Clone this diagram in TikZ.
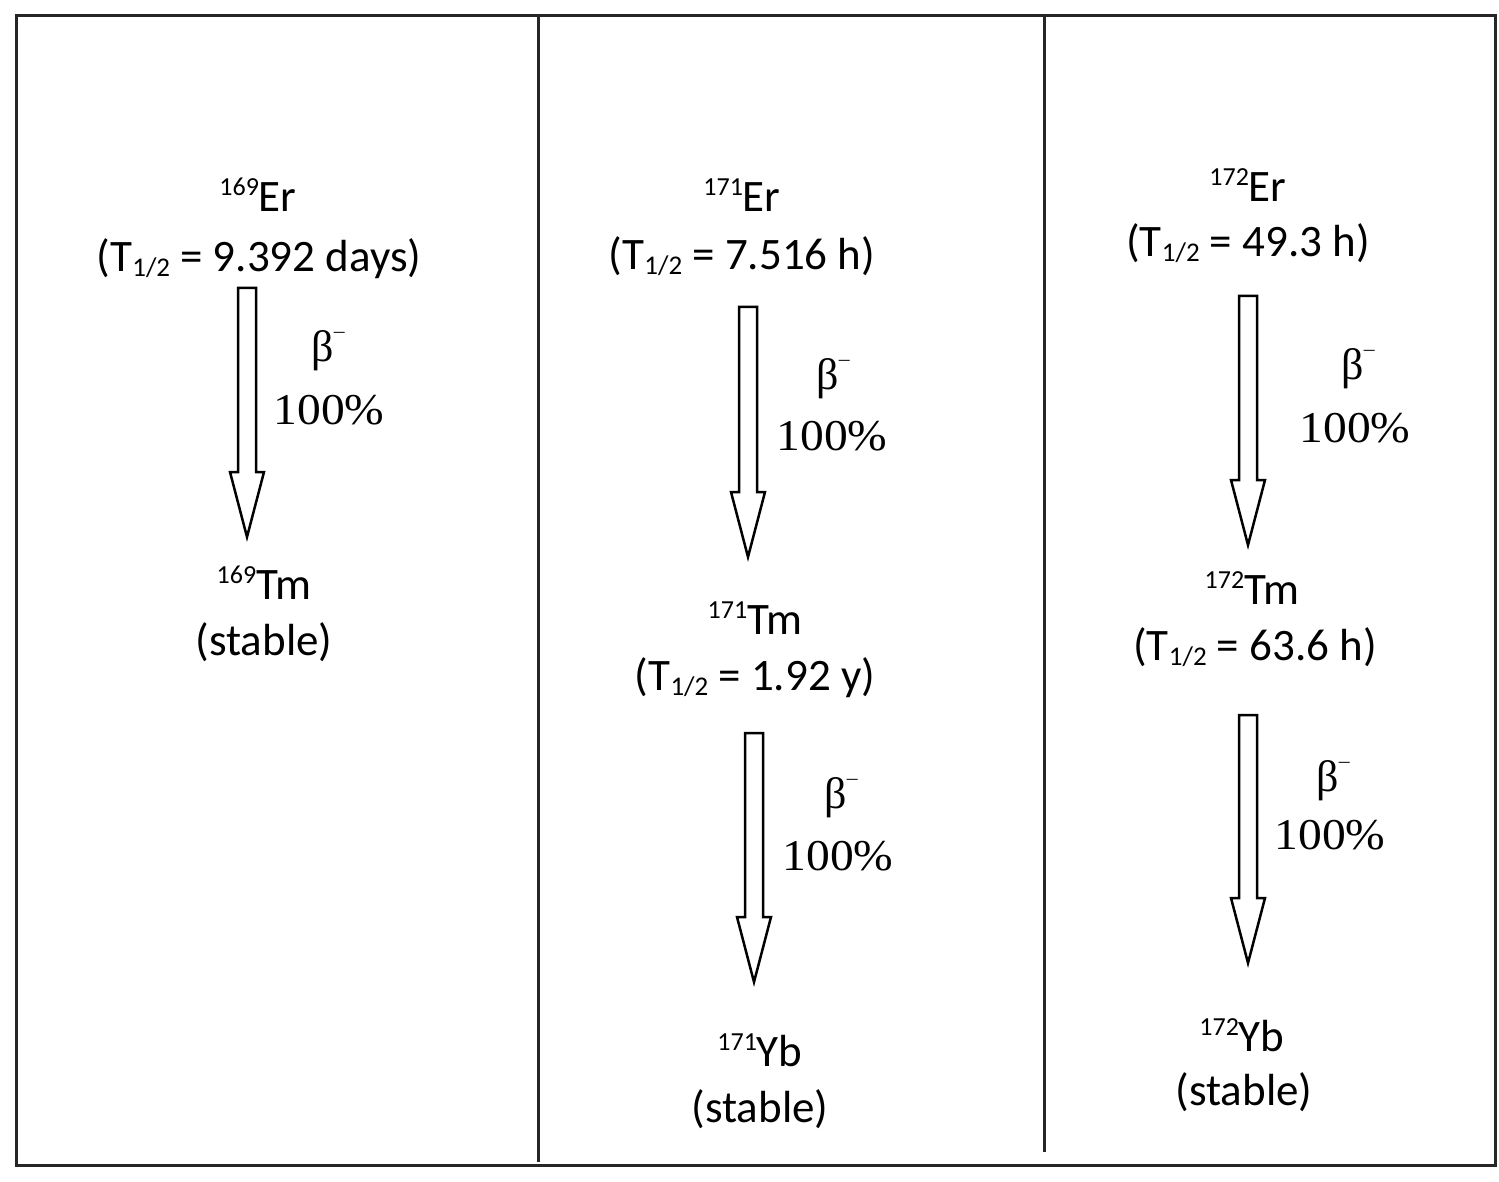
\documentclass[tikz,border=0pt]{standalone}
\usepackage{fontspec}
\setmainfont{Carlito}
\newfontfamily\timesf[FakeStretch=1.08]{Liberation Serif}
\newfontfamily\timesb{Liberation Serif}
\usetikzlibrary{calc}
\newcommand{\upnum}[1]{\raisebox{16pt}{\fontsize{26}{26}\selectfont #1}}
\newcommand{\lownum}[1]{\raisebox{-5pt}{\fontsize{27}{27}\selectfont #1}}
\newcommand{\bminus}{{\timesb β}\raisebox{24pt}{\fontsize{20}{20}\selectfont –}}
\newcommand{\decayarrow}[2]{%
  \draw[blockarrow] ($(#1)+(-9,0)$) -- ($(#2)+(-9,-65)$) -- ($(#2)+(-17,-65)$) -- (#2)
    -- ($(#2)+(17,-65)$) -- ($(#2)+(9,-65)$) -- ($(#1)+(9,0)$) -- cycle;}
\begin{document}
\begin{tikzpicture}[x=1pt,y=-1pt,
  lbl/.style={inner sep=0pt, anchor=base, font=\fontsize{45}{52}\selectfont},
  decay/.style={inner sep=0pt, anchor=center, font=\timesf\fontsize{44}{50}\selectfont},
  frame/.style={draw=black!85, line width=3pt},
  blockarrow/.style={draw=black, line width=2.5pt, fill=white, line join=miter}]
\useasboundingbox (0,0) rectangle (1499,1182);
% frame
\draw[frame] (16,16) rectangle (1495,1165);
\coordinate (d1t) at (538,16);
\coordinate (d1b) at (538,1162);
\coordinate (d2t) at (1044,16);
\coordinate (d2b) at (1044,1152);
\draw[frame] (d1t) -- (d1b);
\draw[frame] (d2t) -- (d2b);
% column 1
\node[lbl] (er169) at (258,212) {\upnum{169}Er};
\node[lbl] (er169t) at (259,272) {(T\lownum{1/2} = 9.392 days)};
\node[lbl] (tm169) at (264,599) {\upnum{169}Tm};
\node[lbl] (tm169t) at (264,655) {(stable)};
\coordinate (a1s) at (247,288);
\coordinate (a1e) at (247,537);
\decayarrow{a1s}{a1e}
\node[decay] (b1) at (328,351) {\bminus};
\node[decay] (p1) at (329,410) {100\%};
% column 2
\node[lbl] (er171) at (742,212) {\upnum{171}Er};
\node[lbl] (er171t) at (742,270) {(T\lownum{1/2} = 7.516 h)};
\node[lbl] (tm171) at (755,634) {\upnum{171}Tm};
\node[lbl] (tm171t) at (755,690) {(T\lownum{1/2} = 1.92 y)};
\node[lbl] (yb171) at (760,1066) {\upnum{171}Yb};
\node[lbl] (yb171t) at (760,1122) {(stable)};
\coordinate (a2s) at (748,307);
\coordinate (a2e) at (748,557);
\decayarrow{a2s}{a2e}
\node[decay] (b2) at (833,379) {\bminus};
\node[decay] (p2) at (832,436) {100\%};
\coordinate (a3s) at (754,733);
\coordinate (a3e) at (754,982);
\decayarrow{a3s}{a3e}
\node[decay] (b3) at (841,798) {\bminus};
\node[decay] (p3) at (838,856) {100\%};
% column 3
\node[lbl] (er172) at (1248,202) {\upnum{172}Er};
\node[lbl] (er172t) at (1248,257) {(T\lownum{1/2} = 49.3 h)};
\node[lbl] (tm172) at (1252,604) {\upnum{172}Tm};
\node[lbl] (tm172t) at (1255,660) {(T\lownum{1/2} = 63.6 h)};
\node[lbl] (yb172) at (1242,1051) {\upnum{172}Yb};
\node[lbl] (yb172t) at (1244,1105) {(stable)};
\coordinate (a4s) at (1248,296);
\coordinate (a4e) at (1248,545);
\decayarrow{a4s}{a4e}
\node[decay] (b4) at (1358,369) {\bminus};
\node[decay] (p4) at (1355,428) {100\%};
\coordinate (a5s) at (1248,715);
\coordinate (a5e) at (1248,963);
\decayarrow{a5s}{a5e}
\node[decay] (b5) at (1333,781) {\bminus};
\node[decay] (p5) at (1330,835) {100\%};
\end{tikzpicture}
\end{document}
